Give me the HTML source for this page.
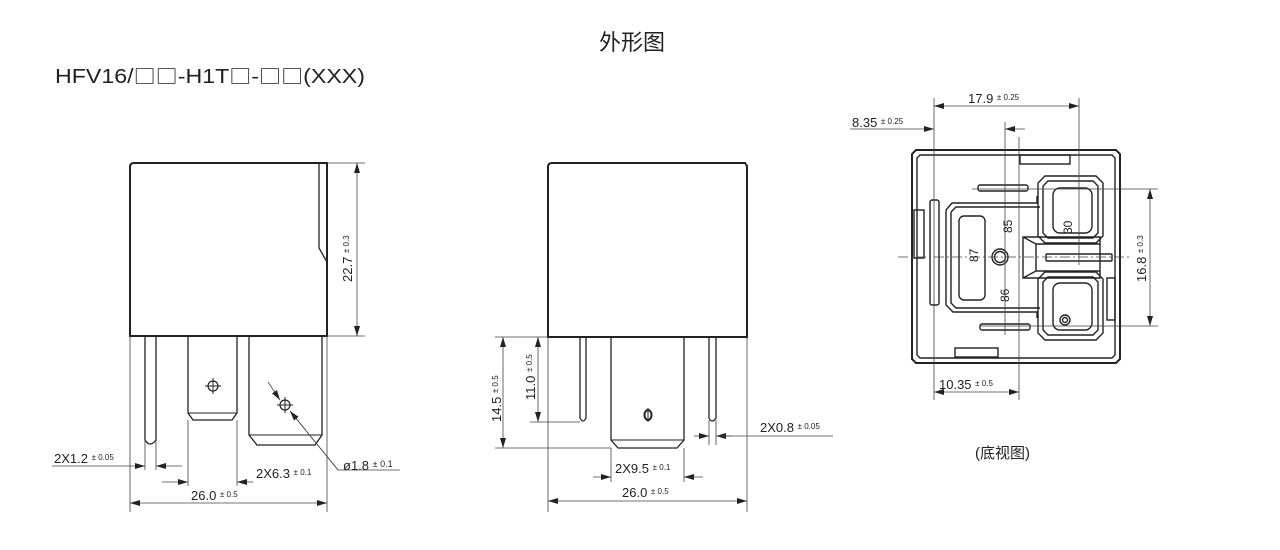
<!DOCTYPE html>
<html><head><meta charset="utf-8"><style>
html,body{margin:0;padding:0;background:#fff;}
svg{display:block;}
text{font-family:"Liberation Sans","Noto Sans CJK SC",sans-serif;fill:#222;}
.c{font-family:"Noto Sans CJK SC",sans-serif;}
</style></head><body>
<svg width="1280" height="550" viewBox="0 0 1280 550" xmlns="http://www.w3.org/2000/svg">
<defs>
<marker id="a" viewBox="0 0 10 6" refX="10" refY="3" markerWidth="10" markerHeight="6" orient="auto-start-reverse" markerUnits="userSpaceOnUse"><path d="M0,0 L10,3 L0,6 z" fill="#222"/></marker>
</defs>
<text x="632" y="50" font-size="22" text-anchor="middle">外形图</text>
<text x="55" y="83" font-size="20" textLength="310" lengthAdjust="spacingAndGlyphs">HFV16/<tspan class="c" font-size="19">□□</tspan>-H1T<tspan class="c" font-size="19">□</tspan>-<tspan class="c" font-size="19">□□</tspan>(XXX)</text>

<!-- LEFT VIEW -->
<g fill="none" stroke="#222">
<path d="M130,167 Q130,163 134,163 L327,163 L327,336 L130,336 Z" stroke-width="2"/>
<path d="M319,163 L319,248 L327,262" stroke-width="1.3"/>
<path d="M145,336 L145,440 Q150,448 156,440 L156,336" stroke-width="1.3"/>
<path d="M188,336 L188,413 L193,420 L232,420 L237,413 L237,336" stroke-width="1.3"/>
<path d="M188,413 L237,413" stroke-width="1"/>
<path d="M249,336 L249,435 L257,445 L315,445 L322,435 L322,336" stroke-width="1.3"/>
<path d="M249,435 L322,435" stroke-width="1"/>
<circle cx="213" cy="386" r="5" stroke-width="1.2"/>
<path d="M205,386 H221 M213,378 V394" stroke-width="1"/>
<circle cx="285" cy="405" r="5" stroke-width="1.2"/>
<path d="M277,405 H293 M285,397 V413" stroke-width="1"/>
</g>
<g stroke="#444" stroke-width="0.8" fill="none">
<path d="M327,163 H365 M327,336 H365"/>
<path d="M357,163 V336" marker-start="url(#a)" marker-end="url(#a)"/>
<path d="M290,411 L338,470 L400,470"/>
<path d="M268,382 L280,400" marker-end="url(#a)"/>
<path d="M338,470 L290,411" marker-end="url(#a)"/>
<path d="M130,336 V512 M327,336 V512 M145,440 V470 M156,440 V470 M188,420 V486 M237,420 V486"/>
<path d="M52,466 H145" marker-end="url(#a)"/>
<path d="M182,466 H156" marker-end="url(#a)"/>
<path d="M162,482 H188" marker-end="url(#a)"/>
<path d="M253,482 H237" marker-end="url(#a)"/>
<path d="M130,503 H327" marker-start="url(#a)" marker-end="url(#a)"/>
</g>
<text x="352" y="282" font-size="13" transform="rotate(-90 352 282)">22.7 <tspan font-size="8" dy="-3">± 0.3</tspan></text>
<text x="54" y="463" font-size="13">2X1.2 <tspan font-size="8" dy="-3">± 0.05</tspan></text>
<text x="256" y="478" font-size="13">2X6.3 <tspan font-size="8" dy="-3">± 0.1</tspan></text>
<text x="343" y="470" font-size="13">ø1.8 <tspan font-size="9" dy="-3">± 0.1</tspan></text>
<text x="191" y="500" font-size="13">26.0 <tspan font-size="8" dy="-3">± 0.5</tspan></text>

<!-- MIDDLE VIEW -->
<g fill="none" stroke="#222">
<path d="M548,167 Q548,163 552,163 L745,163 L747,166 L747,337 L548,337 Z" stroke-width="2"/>
<path d="M580,337 L580,418 Q583,424 586,418 L586,337" stroke-width="1.3"/>
<path d="M709,337 L709,418 Q712,424 716,418 L716,337" stroke-width="1.3"/>
<path d="M611,337 L611,440 L618,448 L677,448 L684,440 L684,337" stroke-width="1.3"/>
<path d="M611,440 L684,440" stroke-width="1"/>
<ellipse cx="648" cy="415" rx="3.5" ry="5" stroke-width="2"/>
<path d="M648,408 V422" stroke-width="1"/>
</g>
<g stroke="#444" stroke-width="0.8" fill="none">
<path d="M495,337 H548 M495,448 H611 M530,422 H580"/>
<path d="M503,337 V448" marker-start="url(#a)" marker-end="url(#a)"/>
<path d="M538,337 V422" marker-start="url(#a)" marker-end="url(#a)"/>
<path d="M548,337 V512 M747,337 V512 M611,448 V482 M684,448 V482 M709,420 V445 M716,420 V445"/>
<path d="M694,436 H709" marker-end="url(#a)"/>
<path d="M733,436 H716" marker-end="url(#a)"/>
<path d="M716,436 H833"/>
<path d="M593,477 H611" marker-end="url(#a)"/>
<path d="M703,477 H684" marker-end="url(#a)"/>
<path d="M548,501 H747" marker-start="url(#a)" marker-end="url(#a)"/>
</g>
<text x="501" y="422" font-size="13" transform="rotate(-90 501 422)">14.5 <tspan font-size="8" dy="-3">± 0.5</tspan></text>
<text x="535" y="400" font-size="13" transform="rotate(-90 535 400)">11.0 <tspan font-size="8" dy="-3">± 0.5</tspan></text>
<text x="760" y="432" font-size="13">2X0.8 <tspan font-size="8" dy="-3">± 0.05</tspan></text>
<text x="615" y="473" font-size="13">2X9.5 <tspan font-size="8" dy="-3">± 0.1</tspan></text>
<text x="622" y="497" font-size="13">26.0 <tspan font-size="8" dy="-3">± 0.5</tspan></text>

<!-- RIGHT VIEW (bottom) -->
<g fill="none" stroke="#222" stroke-width="1.4">
<path d="M916,150 H1116 L1120,154 V359 L1116,363 H916 L912,359 V154 Z" stroke-width="2"/>
<path d="M920,155 H1112 L1115,158 V355 L1112,358 H920 L917,355 V158 Z"/>
<rect x="1020" y="155" width="50" height="9"/>
<rect x="955" y="348" width="43" height="9"/>
<rect x="914" y="210" width="10" height="48"/>
<rect x="930" y="200" width="9" height="105" rx="2"/>
<rect x="1107" y="278" width="8" height="42"/>
<rect x="978" y="185" width="50" height="6" rx="2"/>
<rect x="980" y="324" width="50" height="6" rx="2"/>
<rect x="1046" y="254" width="66" height="7" rx="1"/>
<path d="M952,203 H1037 L1037,196 M946,210 L952,203 M946,210 V305 L953,312 H1037 V318"/>
<path d="M951,212 L956,207 H1040 M951,212 V303 L956,308 H1040"/>
<rect x="959" y="216" width="26" height="84" rx="5"/>
<circle cx="1000" cy="257" r="8"/>
<circle cx="1000" cy="257" r="5.5"/>
<path d="M1023,237 H1100 V278 H1023 Z M1023,237 L1036,244 V271 L1023,278 M1036,244 H1100 M1036,271 H1100"/>
<path d="M1045,176 H1096 L1103,183 V236 L1096,243 H1045 L1038,236 V183 Z"/>
<path d="M1048,181 H1093 L1098,186 V233 L1093,238 H1048 L1043,233 V186 Z"/>
<rect x="1053" y="188" width="39" height="45" rx="7"/>
<path d="M1045,272 H1096 L1103,279 V333 L1096,340 H1045 L1038,333 V279 Z"/>
<path d="M1048,277 H1093 L1098,282 V330 L1093,335 H1048 L1043,330 V282 Z"/>
<rect x="1053" y="283" width="39" height="47" rx="7"/>
<circle cx="1065" cy="320" r="5"/>
<circle cx="1065" cy="320" r="2.5"/>
</g>
<g stroke="#444" stroke-width="0.8" fill="none">
<path d="M898,257 H1130" stroke-dasharray="10,3,2,3"/>
<path d="M934,98 V400 M1079,98 V265 M1005,122 V335 M1019,137 V400"/>
<path d="M934,106 H1079" marker-start="url(#a)" marker-end="url(#a)"/>
<path d="M850,129 H934" marker-end="url(#a)"/>
<path d="M1025,129 H1005" marker-end="url(#a)"/>
<path d="M934,392 H1019" marker-start="url(#a)" marker-end="url(#a)"/>
<path d="M972,189 H1158 M980,326 H1158"/>
<path d="M1150,189 V326" marker-start="url(#a)" marker-end="url(#a)"/>
</g>
<text x="968" y="103" font-size="13">17.9 <tspan font-size="8" dy="-3">± 0.25</tspan></text>
<text x="852" y="127" font-size="13">8.35 <tspan font-size="8" dy="-3">± 0.25</tspan></text>
<text x="939" y="389" font-size="13">10.35 <tspan font-size="8" dy="-3">± 0.5</tspan></text>
<text x="1146" y="282" font-size="13" transform="rotate(-90 1146 282)">16.8 <tspan font-size="8" dy="-3">± 0.3</tspan></text>
<text x="1012" y="233" font-size="12" transform="rotate(-90 1012 233)">85</text>
<text x="978" y="262" font-size="12" transform="rotate(-90 978 262)">87</text>
<text x="1072" y="234" font-size="12" transform="rotate(-90 1072 234)">30</text>
<text x="1009" y="302" font-size="12" transform="rotate(-90 1009 302)">86</text>
<text x="975" y="458" font-size="15">(底视图)</text>
</svg>
</body></html>
